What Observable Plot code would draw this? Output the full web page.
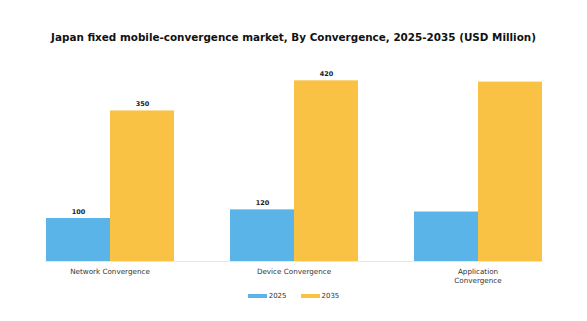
<!DOCTYPE html>
<html>
<head>
<meta charset="utf-8">
<script src="https://cdn.jsdelivr.net/npm/d3@7"></script>
<script src="https://cdn.jsdelivr.net/npm/@observablehq/plot@0.6"></script>
<style>
  html, body { margin: 0; padding: 0; background: #fff; }
  body { width: 587px; height: 321px; position: relative; overflow: hidden; font-family: "DejaVu Sans", sans-serif; }
  #title { position: absolute; left: 0; top: 31px; width: 587px; text-align: center; font-size: 10.4px; font-weight: bold; color: #111; white-space: nowrap; }
  #chart { position: absolute; left: 0; top: 50px; }
  #legend { position: absolute; left: 0; top: 292px; width: 587px; display: flex; justify-content: center; align-items: center; font-size: 7px; color: #333; }
  .item { display: flex; align-items: center; margin: 0 7px; }
  .sw { width: 19px; height: 4px; margin-right: 2px; }
</style>
</head>
<body>
<div id="title">Japan fixed mobile-convergence market, By Convergence, 2025-2035 (USD Million)</div>
<div id="chart"></div>
<div id="legend"></div>
<script>
const categories = ["Network Convergence", "Device Convergence", "Application Convergence"];
const tickLabels = ["Network Convergence", "Device Convergence", "Application\nConvergence"];
const years = ["2025", "2035"];
const values2025 = [100, 120, 115];
const values2035 = [350, 420, 417];
const showLabel = [true, true, false];
const colors = ["#5BB4E8", "#F9C245"];

const data = [];
categories.forEach((c, i) => {
  data.push({category: c, year: "2025", value: values2025[i], label: showLabel[i]});
  data.push({category: c, year: "2035", value: values2035[i], label: showLabel[i]});
});

const plot = Plot.plot({
  width: 587,
  height: 240,
  marginLeft: 20,
  marginRight: 21,
  marginTop: 20,
  marginBottom: 29,
  style: {fontFamily: "DejaVu Sans, sans-serif", background: "transparent"},
  fx: {domain: categories, paddingInner: 0.3, paddingOuter: 0.126, label: null},
  x: {domain: years, padding: 0, axis: null},
  y: {domain: [0, 444], axis: null},
  color: {domain: years, range: colors},
  marks: [
    Plot.barY(data, {fx: "category", x: "year", y: "value", fill: "year"}),
    Plot.frame({anchor: "bottom", stroke: "#e6e6e6", strokeWidth: 1, facet: "super"}),
    Plot.text(data.filter(d => d.label), {fx: "category", x: "year", y: "value", text: d => String(d.value), dy: -7, fontSize: 6.5, fontWeight: "bold", fill: "#222"}),
    Plot.axisFx({anchor: "bottom", tickSize: 0, tickPadding: 6, fontSize: 7.2, lineHeight: 1.22, fill: "#333", label: null,
      tickFormat: d => tickLabels[categories.indexOf(d)]})
  ]
});
document.getElementById("chart").appendChild(plot);

const legend = document.getElementById("legend");
years.forEach((y, i) => {
  const item = document.createElement("div");
  item.className = "item";
  const sw = document.createElement("div");
  sw.className = "sw";
  sw.style.background = colors[i];
  const t = document.createElement("span");
  t.textContent = y;
  item.appendChild(sw);
  item.appendChild(t);
  legend.appendChild(item);
});
</script>
</body>
</html>
